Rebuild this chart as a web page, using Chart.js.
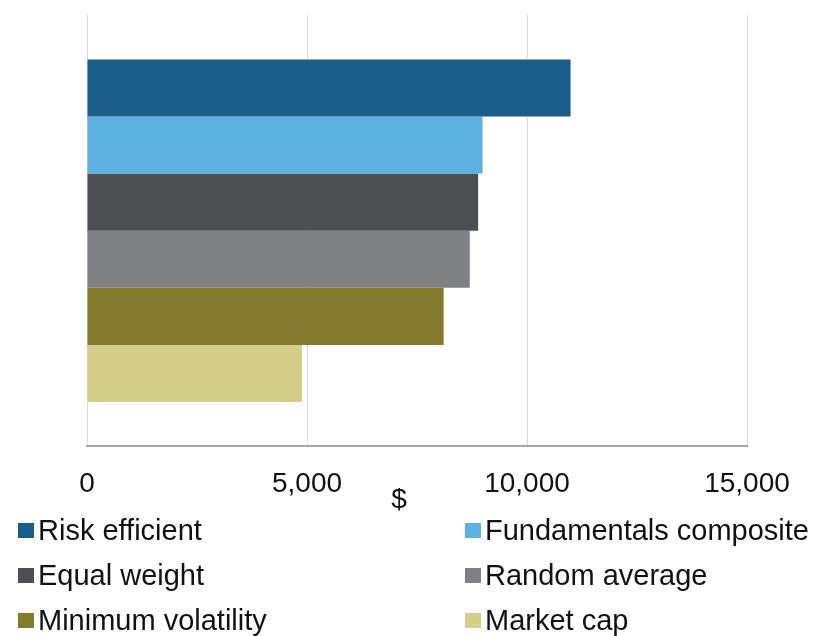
<!DOCTYPE html>
<html>
<head>
<meta charset="utf-8">
<script src="https://cdn.jsdelivr.net/npm/chart.js@4/dist/chart.umd.min.js"></script>
<style>
  html, body { margin: 0; padding: 0; background: #ffffff; }
  #wrap { position: relative; width: 820px; height: 636px; overflow: hidden; }
  #chart { position: absolute; left: 0; top: 0; }
  #legend {
    position: absolute; left: 0; top: 508px; width: 820px;
    font-family: "Liberation Sans", Arial, sans-serif; font-size: 29px; color: #111;
  }
  .item { position: absolute; display: flex; align-items: center; height: 45px; line-height: 45px; white-space: nowrap; }
  .box { width: 16px; height: 15px; margin-right: 4px; }
</style>
</head>
<body>
<div id="wrap">
  <canvas id="chart" width="820" height="636"></canvas>
  <div id="legend"></div>
</div>
<script>
// Ending value ($) of each strategy
const strategies = ['Risk efficient', 'Fundamentals composite', 'Equal weight', 'Random average', 'Minimum volatility', 'Market cap'];
const endValues  = [10990, 8990, 8890, 8700, 8105, 4885];
const colors     = ['#1b5e8a', '#5db1e0', '#4d4f52', '#7f8083', '#847a2c', '#d5ce8a'];
const xTicks     = [0, 5000, 10000, 15000];
const axisUnit   = '$';

const FONT = '"Liberation Sans", Arial, sans-serif';

// Draws the "$" unit label under the value axis
const unitLabel = {
  id: 'unitLabel',
  afterDraw(chart) {
    const s = chart.scales.x;
    const ctx = chart.ctx;
    ctx.save();
    ctx.font = '28px ' + FONT;
    ctx.fillStyle = '#111';
    ctx.textAlign = 'center';
    ctx.textBaseline = 'alphabetic';
    ctx.fillText(axisUnit, (s.left + s.right) / 2 - 18, s.top + 62);
    ctx.restore();
  }
};

const chart = new Chart(document.getElementById('chart'), {
  type: 'bar',
  data: {
    labels: [''],
    datasets: strategies.map((name, i) => ({
      label: name,
      data: [endValues[i]],
      backgroundColor: colors[i],
      borderWidth: 0
    }))
  },
  options: {
    indexAxis: 'y',
    responsive: false,
    animation: false,
    events: [],
    datasets: { bar: { categoryPercentage: 0.794, barPercentage: 1.0 } },
    layout: { padding: { left: 87, right: 73, top: 15, bottom: 114 } },
    plugins: { legend: { display: false }, tooltip: { enabled: false } },
    scales: {
      x: {
        min: 0, max: 15000,
        afterBuildTicks(scale) { scale.ticks = xTicks.map(v => ({ value: v })); },
        ticks: {
          padding: 21,
          color: '#111',
          font: { family: FONT, size: 28 },
          maxRotation: 0,
          callback: v => v.toLocaleString('en-US')
        },
        grid: { color: '#d9d9d9', lineWidth: 1, drawTicks: false },
        border: { color: '#a6a6a6', width: 2 }
      },
      y: { display: false }
    }
  },
  plugins: [unitLabel]
});

// Two-column legend built from the chart's datasets
const legend = document.getElementById('legend');
chart.data.datasets.forEach((ds, i) => {
  const col = i % 2, row = Math.floor(i / 2);
  const item = document.createElement('div');
  item.className = 'item';
  item.style.left = (col === 0 ? 18 : 465) + 'px';
  item.style.top = (row * 45) + 'px';
  const box = document.createElement('span');
  box.className = 'box';
  box.style.background = ds.backgroundColor;
  const txt = document.createElement('span');
  txt.textContent = ds.label;
  item.appendChild(box);
  item.appendChild(txt);
  legend.appendChild(item);
});
</script>
</body>
</html>
